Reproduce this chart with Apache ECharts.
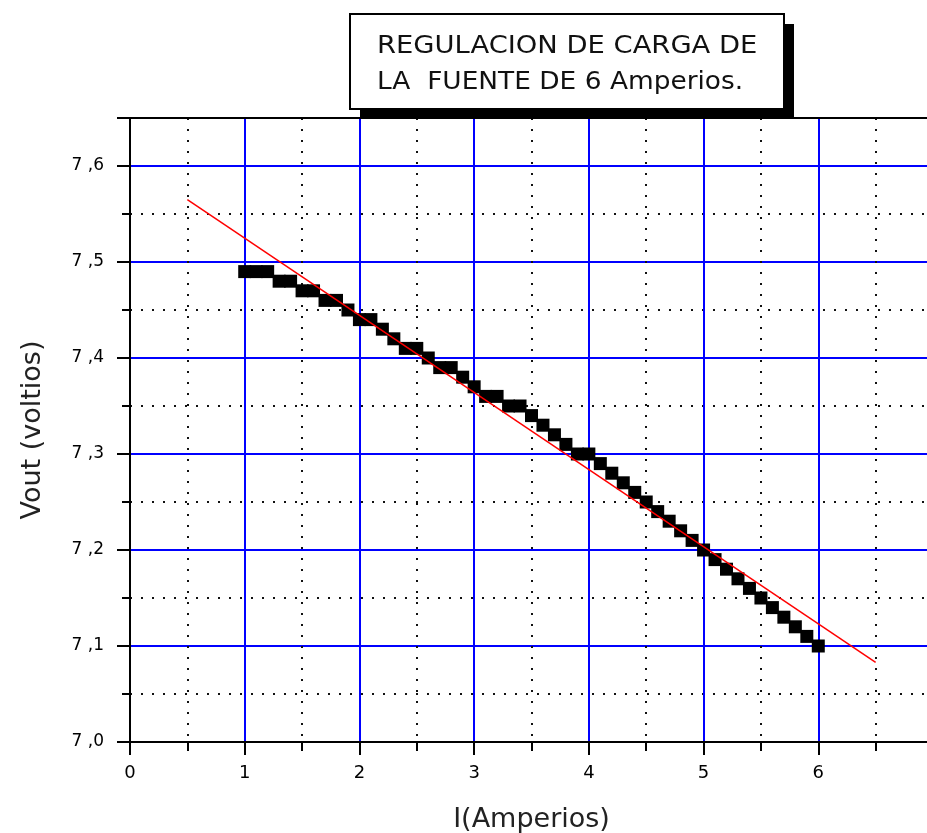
<!DOCTYPE html>
<html>
<head>
<meta charset="utf-8">
<title>Regulación de carga</title>
<script src="https://cdn.jsdelivr.net/npm/echarts@6/dist/echarts.min.js"></script>
<style>
  html, body { margin: 0; padding: 0; background: #fff; }
  #chart { width: 927px; height: 833px; }
</style>
</head>
<body>
<div id="chart"></div>
<script>
// Load current (A) and measured output voltage (V)
const currentA = [
  1.0, 1.1, 1.2, 1.3, 1.4, 1.5, 1.6, 1.7, 1.8, 1.9,
  2.0, 2.1, 2.2, 2.3, 2.4, 2.5, 2.6, 2.7, 2.8, 2.9,
  3.0, 3.1, 3.2, 3.3, 3.4, 3.5, 3.6, 3.7, 3.8, 3.9,
  4.0, 4.1, 4.2, 4.3, 4.4, 4.5, 4.6, 4.7, 4.8, 4.9,
  5.0, 5.1, 5.2, 5.3, 5.4, 5.5, 5.6, 5.7, 5.8, 5.9, 6.0
];
const voutV = [
  7.49, 7.49, 7.49, 7.48, 7.48, 7.47, 7.47, 7.46, 7.46, 7.45,
  7.44, 7.44, 7.43, 7.42, 7.41, 7.41, 7.40, 7.39, 7.39, 7.38,
  7.37, 7.36, 7.36, 7.35, 7.35, 7.34, 7.33, 7.32, 7.31, 7.30,
  7.30, 7.29, 7.28, 7.27, 7.26, 7.25, 7.24, 7.23, 7.22, 7.21,
  7.20, 7.19, 7.18, 7.17, 7.16, 7.15, 7.14, 7.13, 7.12, 7.11, 7.10
];

// Least-squares fit line end points
const fitA = [0.5, 6.5];
const fitV = [7.565, 7.083];

// Tick labels
const xTickLabels = ['0', '1', '2', '3', '4', '5', '6', '7'];
const yTickLabels = ['7 ,0', '7 ,1', '7 ,2', '7 ,3', '7 ,4', '7 ,5', '7 ,6'];

// Title box text
const titleLines = ['REGULACION DE CARGA DE', 'LA  FUENTE DE 6 Amperios.'];
const xName = 'I(Amperios)';
const yName = 'Vout (voltios)';

const chart = echarts.init(document.getElementById('chart'), null, { renderer: 'canvas' });

const FONT = 'DejaVu Sans';
const BLUE = '#0000ff';

const option = {
  backgroundColor: '#ffffff',
  animation: false,
  grid: {
    left: 130, right: -6, top: 118, bottom: 91,
    containLabel: false,
    outerBoundsMode: 'none'
  },
  xAxis: [
    {
      type: 'value',
      min: 0, max: 7, interval: 1,
      position: 'bottom',
      name: xName,
      nameLocation: 'middle',
      nameGap: 64,
      nameTextStyle: { fontFamily: FONT, fontSize: 27, color: '#222' },
      axisLine: { show: true, onZero: false, lineStyle: { color: '#000', width: 2 } },
      axisTick: { show: true, length: 13, lineStyle: { color: '#000', width: 2 } },
      minorTick: { show: true, splitNumber: 2, length: 9, lineStyle: { color: '#000', width: 2 } },
      axisLabel: {
        margin: 22,
        fontFamily: FONT, fontSize: 18, color: '#000',
        formatter: (v) => xTickLabels[Math.round(v)] ?? ''
      },
      splitLine: { show: true, showMinLine: false, lineStyle: { color: BLUE, width: 2 } },
      minorSplitLine: { show: true, lineStyle: { color: '#111', width: 2, type: [2, 9] } }
    },
    {
      // top border of the plot
      type: 'value',
      min: 0, max: 7,
      position: 'top',
      z: 10,
      axisLine: { show: true, onZero: false, lineStyle: { color: '#000', width: 2 } },
      axisTick: { show: false },
      axisLabel: { show: false },
      splitLine: { show: false }
    }
  ],
  yAxis: {
    type: 'value',
    min: 7.0, max: 7.65, interval: 0.1,
    name: yName,
    nameLocation: 'middle',
    nameRotate: 90,
    nameGap: 84,
    nameTextStyle: { fontFamily: FONT, fontSize: 27, color: '#222' },
    axisLine: { show: true, onZero: false, lineStyle: { color: '#000', width: 2 } },
    axisTick: { show: true, length: 13, lineStyle: { color: '#000', width: 2 } },
    minorTick: { show: true, splitNumber: 2, length: 8, lineStyle: { color: '#000', width: 2 } },
    axisLabel: {
      margin: 26,
      showMaxLabel: false,
      fontFamily: FONT, fontSize: 17, color: '#000',
      formatter: (v) => {
        const i = Math.round((v - 7.0) * 10);
        return Math.abs((v - 7.0) * 10 - i) < 1e-6 ? (yTickLabels[i] ?? '') : '';
      }
    },
    splitLine: { show: true, showMinLine: false, showMaxLine: false, lineStyle: { color: BLUE, width: 2 } },
    minorSplitLine: { show: true, lineStyle: { color: '#111', width: 2, type: [2, 9] } }
  },
  series: [
    {
      name: 'Vout',
      type: 'scatter',
      symbol: 'rect',
      symbolSize: 13,
      itemStyle: { color: '#000', opacity: 1 },
      data: currentA.map((a, i) => [a, voutV[i]]),
      z: 3
    },
    {
      name: 'Ajuste',
      type: 'line',
      showSymbol: false,
      symbol: 'none',
      lineStyle: { color: '#ff0000', width: 1.5 },
      data: fitA.map((a, i) => [a, fitV[i]]),
      z: 4
    }
  ],
  graphic: [
    {
      type: 'group',
      left: 349, top: 13,
      z: 20,
      children: [
        {
          type: 'rect',
          shape: { x: 10, y: 10, width: 434, height: 95 },
          style: { fill: '#000' }
        },
        {
          type: 'rect',
          shape: { x: 0, y: 0, width: 434, height: 95 },
          style: { fill: '#fff', stroke: '#000', lineWidth: 2 }
        },
        {
          type: 'text',
          x: 27, y: 21,
          scaleX: 1.14,
          style: { text: titleLines[0], fontFamily: FONT, fontSize: 24, fill: '#111' }
        },
        {
          type: 'text',
          x: 27, y: 57,
          scaleX: 1.10,
          style: { text: titleLines[1], fontFamily: FONT, fontSize: 24, fill: '#111' }
        }
      ]
    }
  ]
};

chart.setOption(option);
</script>
</body>
</html>
